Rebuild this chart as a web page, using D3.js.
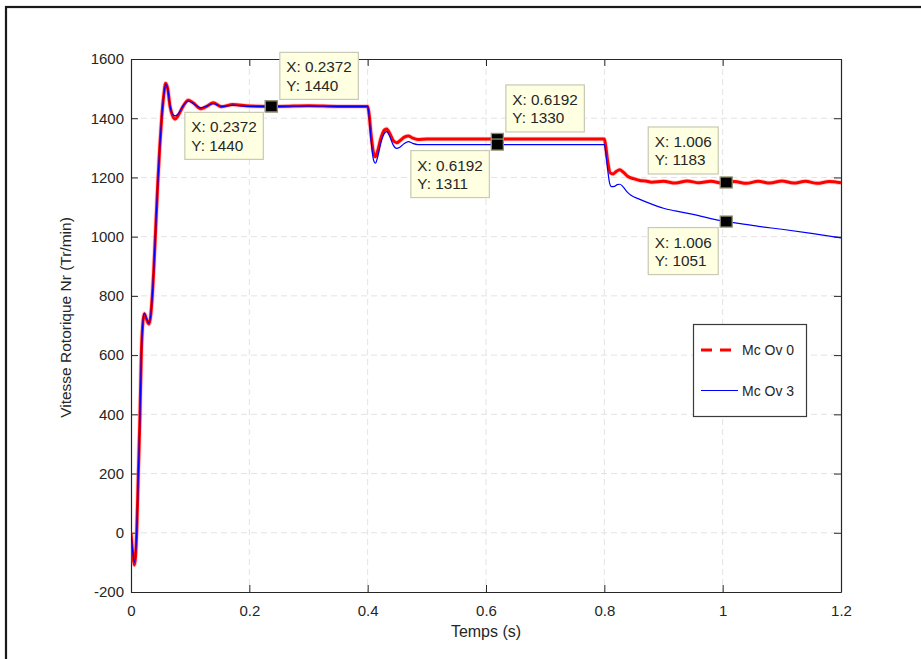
<!DOCTYPE html>
<html><head><meta charset="utf-8">
<script src="https://cdn.jsdelivr.net/npm/d3@7"></script>
<style>
body{margin:0;background:#fff}
text{font-family:"Liberation Sans",Arial,Helvetica,sans-serif;fill:#262626}
</style></head>
<body><svg id="c" width="921" height="659"></svg>
<script>
// ---- data ----
const seriesNames = ["Mc Ov 0", "Mc Ov 3"];
const redT = [0,0.003,0.0056,0.0096,0.0124,0.0152,0.0174,0.0197,0.0225,0.026,0.0304,0.036,0.039,0.042,0.045,0.0485,0.0518,0.0555,0.0586,0.062,0.066,0.070,0.0744,0.080,0.088,0.0969,0.105,0.118,0.128,0.139,0.153,0.172,0.2,0.25,0.3,0.35,0.4,
  0.402,0.406,0.410,0.413,0.417,0.422,0.428,0.432,0.437,0.443,0.449,0.455,0.462,0.469,0.476,0.485,0.5,0.55,0.6,0.65,0.7,0.75,0.8,
  0.802,0.806,0.810,0.815,0.820,0.826,0.832,0.840,0.849,0.86,0.87,0.88,0.9,0.92,0.94,0.96,0.98,1.0,1.02,1.04,1.06,1.08,1.10,1.12,1.14,1.16,1.18,1.2];
const redV = [0,-70,-109,0,200,400,600,700,740,722,705,800,910,1040,1170,1300,1400,1480,1518,1500,1440,1410,1397,1410,1440,1461,1452,1432,1440,1452,1439,1446,1441,1440,1442,1440,1440,
  1420,1340,1282,1270,1290,1330,1360,1364,1350,1325,1317,1325,1336,1340,1333,1328,1330,1330,1330,1330,1330,1330,1330,
  1310,1250,1215,1212,1220,1226,1218,1203,1196,1190,1188,1184,1187,1181,1188,1182,1187,1181,1186,1180,1187,1181,1188,1181,1187,1180,1186,1182];
const blueT = [0,0.003,0.0056,0.0096,0.0124,0.0152,0.0174,0.0197,0.0225,0.026,0.0304,0.036,0.039,0.042,0.045,0.0485,0.0518,0.0555,0.0586,0.062,0.066,0.070,0.0744,0.080,0.088,0.0969,0.105,0.118,0.128,0.139,0.153,0.172,0.2,0.25,0.3,0.35,0.4,
  0.402,0.406,0.410,0.413,0.417,0.422,0.428,0.432,0.437,0.443,0.449,0.455,0.462,0.469,0.476,0.485,0.5,0.55,0.6,0.65,0.7,0.75,0.8,
  0.802,0.806,0.809,0.812,0.817,0.822,0.826,0.831,0.838,0.845,0.86,0.88,0.9,0.92,0.95,0.98,1.006,1.03,1.06,1.1,1.15,1.2];
const blueV = [0,-65,-100,0,200,400,600,700,742,725,708,800,910,1040,1170,1300,1400,1478,1514,1498,1442,1415,1408,1415,1442,1458,1450,1435,1441,1449,1440,1444,1440,1440,1441,1440,1440,
  1415,1320,1258,1248,1270,1315,1348,1355,1340,1310,1298,1303,1315,1321,1315,1311,1311,1311,1311,1311,1311,1311,1311,
  1290,1220,1180,1169,1170,1176,1177,1170,1152,1140,1126,1110,1096,1087,1075,1061,1051,1044,1035,1025,1011,996];
const xTicks = [0,0.2,0.4,0.6,0.8,1,1.2];
const xTickLabels = ["0","0.2","0.4","0.6","0.8","1","1.2"];
const yTicks = [-200,0,200,400,600,800,1000,1200,1400,1600];
const yTickLabels = ["-200","0","200","400","600","800","1000","1200","1400","1600"];
const tipT = [0.2372,0.2372,0.6192,0.6192,1.006,1.006];
const tipV = [1440,1440,1330,1311,1183,1051];
const tipXText = ["X: 0.2372","X: 0.2372","X: 0.6192","X: 0.6192","X: 1.006","X: 1.006"];
const tipYText = ["Y: 1440","Y: 1440","Y: 1330","Y: 1311","Y: 1183","Y: 1051"];

// ---- drawing ----
const svg = d3.select("#c");
const L=131,R=841,T=59,B=592;
const x = d3.scaleLinear().domain([0,1.2]).range([L,R]);
const y = d3.scaleLinear().domain([-200,1600]).range([B,T]);

// outer frame
svg.append("rect").attr("x",6).attr("y",7).attr("width",1000).attr("height",1000)
  .attr("fill","none").attr("stroke","#1a1a1a").attr("stroke-width",2.2);

// grid
const g = svg.append("g");
g.selectAll(".gx").data(xTicks.slice(1,-1)).enter().append("line")
  .attr("x1",d=>x(d)).attr("x2",d=>x(d)).attr("y1",T).attr("y2",B)
  .attr("stroke","#e3e3e3").attr("stroke-dasharray","6,4").attr("stroke-width",1);
g.selectAll(".gy").data(yTicks.slice(1,-1)).enter().append("line")
  .attr("y1",d=>y(d)).attr("y2",d=>y(d)).attr("x1",L).attr("x2",R)
  .attr("stroke","#e3e3e3").attr("stroke-dasharray","6,4").attr("stroke-width",1);

// axes
const fmtX = (d,i)=>xTickLabels[i];
const fmtY = (d,i)=>yTickLabels[i];
const axB = svg.append("g").attr("transform",`translate(0,${B})`)
  .call(d3.axisBottom(x).tickValues(xTicks).tickFormat(fmtX).tickSizeInner(-7).tickSizeOuter(0).tickPadding(13));
const axT = svg.append("g").attr("transform",`translate(0,${T})`)
  .call(d3.axisTop(x).tickValues(xTicks).tickFormat("").tickSizeInner(-7).tickSizeOuter(0));
const axL = svg.append("g").attr("transform",`translate(${L},0)`)
  .call(d3.axisLeft(y).tickValues(yTicks).tickFormat(fmtY).tickSizeInner(-7).tickSizeOuter(0).tickPadding(7));
const axR = svg.append("g").attr("transform",`translate(${R},0)`)
  .call(d3.axisRight(y).tickValues(yTicks).tickFormat("").tickSizeInner(-7).tickSizeOuter(0));
[axB,axT,axL,axR].forEach(a=>{
  a.selectAll("path").attr("stroke","#262626").attr("stroke-width",1.2);
  a.selectAll("line").attr("stroke","#262626").attr("stroke-width",1);
  a.selectAll("text").attr("font-size",15).attr("font-family","Liberation Sans, Arial, sans-serif").attr("fill","#262626");
});

// axis labels
svg.append("text").attr("x",(L+R)/2).attr("y",637).attr("text-anchor","middle")
  .attr("font-size",16).text("Temps (s)");
svg.append("text").attr("transform",`translate(71,${(T+B)/2-8}) rotate(-90)`).attr("text-anchor","middle")
  .attr("font-size",15.5).text("Vitesse Rotorique Nr (Tr/min)");

// lines
const clip = svg.append("clipPath").attr("id","cp").append("rect").attr("x",L).attr("y",T-4).attr("width",R-L).attr("height",B-T+8);
const line = d3.line().x(d=>x(d[0])).y(d=>y(d[1])).curve(d3.curveMonotoneX);
const redPts = redT.map((t,i)=>[t,redV[i]]);
const bluePts = blueT.map((t,i)=>[t,blueV[i]]);
const lg = svg.append("g").attr("clip-path","url(#cp)");
lg.append("path").datum(redPts).attr("d",line).attr("fill","none").attr("stroke","#ff7070").attr("stroke-width",4.6).attr("stroke-opacity",0.35);
lg.append("path").datum(redPts).attr("d",line).attr("fill","none").attr("stroke","#ff0000").attr("stroke-width",3);
lg.append("path").datum(bluePts).attr("d",line).attr("fill","none").attr("stroke","#0000ff").attr("stroke-width",1.2);

// data tips
const tipG = svg.append("g");
const place = [1,-1,1,-1,2,-1];
tipT.forEach((t,i)=>{
  const mx = x(t), my = y(tipV[i]);
  const grp = tipG.append("g");
  const rect = grp.append("rect").attr("fill","#ffffe1").attr("stroke","#c9c9b4").attr("stroke-width",1.2);
  const t1 = grp.append("text").attr("font-size",15.3).text(tipXText[i]).attr("fill","#1a1a1a");
  const t2 = grp.append("text").attr("font-size",15.3).text(tipYText[i]).attr("fill","#1a1a1a");
  const w = Math.max(t1.node().getComputedTextLength(), t2.node().getComputedTextLength()) + 13;
  const h = 47;
  let bx, by;
  const p = place[i];
  if (p===1){ bx = mx+8.5; by = my-7-h; }
  else if (p===2){ bx = mx-8-w; by = my-8.5-h; }
  else { bx = mx-8-w; by = my+6; }
  rect.attr("x",bx).attr("y",by).attr("width",w).attr("height",h);
  t1.attr("x",bx+6.5).attr("y",by+20);
  t2.attr("x",bx+6.5).attr("y",by+38.5);
});
tipT.forEach((t,i)=>{
  tipG.append("rect").attr("x",x(t)-6).attr("y",y(tipV[i])-5.5).attr("width",12).attr("height",11)
    .attr("fill","#000").attr("stroke","#8f8f70").attr("stroke-width",1.3);
});

// legend
const leg = svg.append("g");
leg.append("rect").attr("x",693.5).attr("y",324.5).attr("width",113).attr("height",92)
  .attr("fill","#fff").attr("stroke","#3a3a3a").attr("stroke-width",1.2);
leg.append("line").attr("x1",701).attr("x2",738).attr("y1",350).attr("y2",350)
  .attr("stroke","#ff0000").attr("stroke-width",3.2).attr("stroke-dasharray","11,8");
leg.append("text").attr("x",742).attr("y",355).attr("font-size",14).text(seriesNames[0]);
leg.append("line").attr("x1",701).attr("x2",738).attr("y1",390.5).attr("y2",390.5)
  .attr("stroke","#0000ff").attr("stroke-width",1.2);
leg.append("text").attr("x",742).attr("y",395.5).attr("font-size",14).text(seriesNames[1]);
</script>
</body></html>
